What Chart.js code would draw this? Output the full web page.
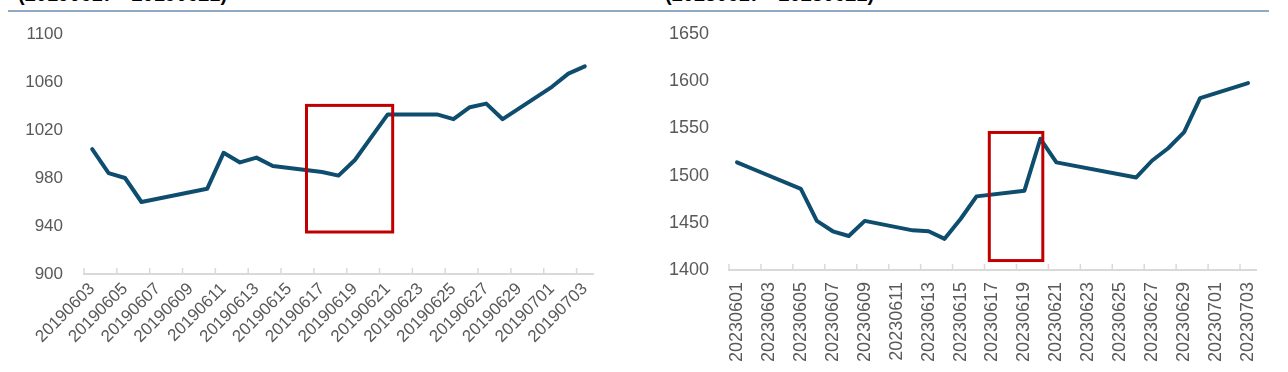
<!DOCTYPE html>
<html lang="en">
<head>
    <meta charset="UTF-8">
    <title>Index comparison</title>
    <script src="https://cdn.jsdelivr.net/npm/chart.js"></script>
    <style>
        body { margin: 0; background: #fff; width: 1288px; height: 372px; overflow: hidden; position: relative; font-family: 'Liberation Sans', Arial, sans-serif; }
        .rule { position: absolute; left: 8px; top: 10px; width: 1261px; height: 2px; background: #8fabc4; }
        .title { position: absolute; top: -16px; font-size: 20px; line-height: 20px; font-weight: bold; color: #000; white-space: nowrap; }
        .panel { position: absolute; top: 0; height: 372px; }
    </style>
</head>
<body>
    <div class="title" style="left:18px">(20190617 - 20190621)</div>
    <div class="title" style="left:665px">(20230617 - 20230621)</div>
    <div class="rule"></div>
    <div class="panel" style="left:0; width:640px"><canvas id="left" width="640" height="372"></canvas></div>
    <div class="panel" style="left:640px; width:648px"><canvas id="right" width="648" height="372"></canvas></div>

    <script>
        // trading days and index values, 2019 window
        const days2019 = ['20190603', '20190604', '20190605', '20190606', '20190610', '20190611', '20190612', '20190613', '20190614',
            '20190617', '20190618', '20190619', '20190620', '20190621', '20190624', '20190625', '20190626', '20190627', '20190628',
            '20190701', '20190702', '20190703'];
        const values2019 = [1004, 984, 980, 960, 971, 1001, 993, 997, 990,
            985, 982, 995, 1014, 1033, 1033, 1029, 1039, 1042, 1029,
            1056, 1067, 1073];
        const yTicks2019 = [900, 940, 980, 1020, 1060, 1100];

        // trading days and index values, 2023 window
        const days2023 = ['20230601', '20230602', '20230605', '20230606', '20230607', '20230608', '20230609', '20230612', '20230613',
            '20230614', '20230615', '20230616', '20230619', '20230620', '20230621', '20230626', '20230627', '20230628', '20230629',
            '20230630', '20230703'];
        const values2023 = [1514, 1507, 1486, 1452, 1441, 1436, 1452, 1442, 1441,
            1433, 1454, 1478, 1484, 1539, 1514, 1498, 1516, 1529, 1546,
            1582, 1598];
        const yTicks2023 = [1400, 1450, 1500, 1550, 1600, 1650];

        // highlighted windows (x in calendar-day index, y in index points)
        const box2019 = [13.05, 18.3, 935, 1040.5];
        const box2023 = [15.8, 19.15, 1410, 1545.7];

        const lineColor = '#0f4d6e';
        const boxColor = '#c00000';
        const axisColor = '#d9d9d9';
        const labelColor = '#595959';

        // every calendar day between first and last trading day (the axis is a date axis)
        function calendarDays(first, last) {
            const toDate = s => new Date(Date.UTC(+s.slice(0, 4), +s.slice(4, 6) - 1, +s.slice(6, 8)));
            const out = [];
            const d = toDate(first);
            const end = toDate(last);
            while (d <= end) {
                out.push(d.getUTCFullYear() + String(d.getUTCMonth() + 1).padStart(2, '0') + String(d.getUTCDate()).padStart(2, '0'));
                d.setUTCDate(d.getUTCDate() + 1);
            }
            return out;
        }

        // small inward tick marks on the date axis, every second day boundary
        const tickMarks = {
            id: 'tickMarks',
            afterDatasetsDraw(chart) {
                const x = chart.scales.x;
                const ctx = chart.ctx;
                ctx.save();
                ctx.strokeStyle = axisColor;
                ctx.lineWidth = 1.5;
                ctx.beginPath();
                for (let i = 0; i < x.ticks.length; i += 2) {
                    const px = x.getPixelForValue(i - 0.5);
                    ctx.moveTo(px, x.top);
                    ctx.lineTo(px, x.top - 6);
                }
                ctx.stroke();
                ctx.restore();
            }
        };

        const highlightBox = {
            id: 'highlightBox',
            afterDatasetsDraw(chart, args, opts) {
                const [x0, x1, y0, y1] = opts.range;
                const xs = chart.scales.x, ys = chart.scales.y;
                const ctx = chart.ctx;
                ctx.save();
                ctx.strokeStyle = boxColor;
                ctx.lineWidth = 3;
                const l = xs.getPixelForValue(x0), r = xs.getPixelForValue(x1);
                const t = ys.getPixelForValue(y1), b = ys.getPixelForValue(y0);
                ctx.strokeRect(l, t, r - l, b - t);
                ctx.restore();
            }
        };

        function makeChart(id, days, values, yTicks, box, cfg) {
            const axisDays = calendarDays(days[0], days[days.length - 1]);
            const font = { family: "'Liberation Sans', Arial, sans-serif", size: cfg.fontSize };
            return new Chart(document.getElementById(id), {
                type: 'line',
                data: {
                    labels: axisDays,
                    datasets: [{
                        data: days.map((d, i) => ({ x: d, y: values[i] })),
                        borderColor: lineColor,
                        borderWidth: 4,
                        borderJoinStyle: 'round',
                        borderCapStyle: 'round',
                        pointRadius: 0,
                        tension: 0
                    }]
                },
                options: {
                    responsive: false,
                    animation: false,
                    layout: { padding: cfg.padding },
                    plugins: {
                        legend: { display: false },
                        tooltip: { enabled: false },
                        highlightBox: { range: box }
                    },
                    scales: {
                        x: {
                            offset: true,
                            grid: { display: false, drawTicks: false },
                            border: { color: axisColor, width: 2 },
                            ticks: {
                                autoSkip: false,
                                minRotation: cfg.rotation,
                                maxRotation: cfg.rotation,
                                padding: cfg.xPad,
                                color: labelColor,
                                font: font,
                                callback: function (v, i) { return i % 2 ? '' : this.getLabelForValue(v); }
                            },
                            afterFit: s => { s.height = cfg.xHeight; }
                        },
                        y: {
                            min: yTicks[0],
                            max: yTicks[yTicks.length - 1],
                            afterBuildTicks: s => { s.ticks = yTicks.map(v => ({ value: v })); },
                            grid: { display: false, drawTicks: false },
                            border: { display: false },
                            ticks: {
                                padding: cfg.yPad,
                                color: labelColor,
                                font: font,
                                callback: v => String(v)
                            },
                            afterFit: s => { s.width = cfg.yWidth; }
                        }
                    }
                },
                plugins: [tickMarks, highlightBox]
            });
        }

        makeChart('left', days2019, values2019, yTicks2019, box2019, {
            padding: { left: 0, right: 47, top: 34, bottom: 0 },
            rotation: 45, xPad: 5, xHeight: 98, yPad: 21, yWidth: 84, fontSize: 17
        });
        makeChart('right', days2023, values2023, yTicks2023, box2023, {
            padding: { left: 0, right: 32, top: 34, bottom: 0 },
            rotation: 90, xPad: 12, xHeight: 102, yPad: 20, yWidth: 89, fontSize: 18
        });
    </script>
</body>
</html>
